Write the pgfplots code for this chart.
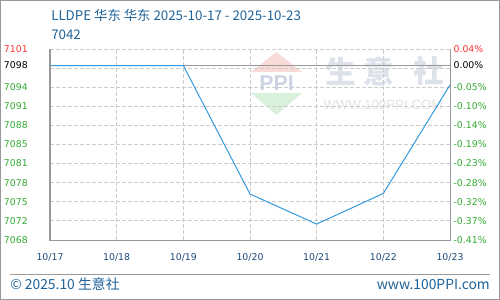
\documentclass[border=0pt]{standalone}
\usepackage{fontspec}
\setmainfont{Noto Sans CJK SC}
\newfontfamily\tickfont{DejaVu Sans}
\newfontfamily\wmfont{Liberation Sans}
\usepackage{pgfplots}
\pgfplotsset{compat=1.18}
\definecolor{tgreen}{HTML}{33AA33}
\definecolor{tred}{HTML}{FF3333}
\definecolor{tblue}{HTML}{1F6399}
\definecolor{xblue}{HTML}{1A4A7A}
\definecolor{lblue}{HTML}{3399DD}
\definecolor{wmgray}{HTML}{DDE1EA}
\definecolor{wmtext}{HTML}{E2E2E2}
\definecolor{wmpink}{HTML}{F8DAD6}
\definecolor{wmgreen}{HTML}{D8F0DC}
\definecolor{wmppi}{HTML}{CCD4E4}
\definecolor{gridc}{HTML}{CCCCCC}
\definecolor{axc}{HTML}{999999}
\pgfplotstableread{
x y
0 7098
1 7098
2 7098
3 7076.2
4 7071.1
5 7076.3
6 7094.7
}\lldpe
\begin{document}
\begin{tikzpicture}[x=0.75pt,y=0.75pt]
\draw[color=axc, line width=0.75pt] (0.5,0.5) rectangle (499.5,299.5);
% title
\node[anchor=west, text=tblue, inner sep=0pt, font=\fontsize{10pt}{11pt}\selectfont] at (51,285) {LLDPE 华东 华东 2025-10-17 - 2025-10-23};
\node[anchor=west, text=tblue, inner sep=0pt, font=\fontsize{10pt}{11pt}\selectfont] at (51,265.5) {7042};
% watermark
\fill[wmpink] (276.5,248) -- (251,228) -- (302,228) -- cycle;
\fill[wmgreen] (251,207) -- (302,207) -- (276.5,185) -- cycle;
\node[text=wmppi, inner sep=0pt, font=\wmfont\bfseries\fontsize{16pt}{16pt}\selectfont] at (276.5,217) {PPI};
\node[text=wmgray, inner sep=0pt, font=\fontsize{23pt}{23pt}\selectfont\bfseries] at (341,229) {生};
\node[text=wmgray, inner sep=0pt, font=\fontsize{23pt}{23pt}\selectfont\bfseries] at (378.5,229) {意};
\node[text=wmgray, inner sep=0pt, font=\fontsize{23pt}{23pt}\selectfont\bfseries] at (429,229) {社};
\node[text=wmtext, inner sep=0pt, font=\wmfont\fontsize{10pt}{10pt}\selectfont] at (383,195) {WWW.100PPI.COM};
% main axis
\begin{axis}[
  at={(37.5pt,45pt)}, anchor=south west,
  scale only axis, width=300pt, height=143.25pt,
  xmin=0, xmax=6, ymin=7068.4, ymax=7100.8,
  axis line style={draw=none},
  major tick length=0pt,
  xtick={0,1,2,3,4,5,6},
  xticklabels={10/17,10/18,10/19,10/20,10/21,10/22,10/23},
  xticklabel style={text=xblue, anchor=center, inner sep=0pt, yshift=-12.75pt, font=\tickfont\fontsize{7pt}{8pt}\selectfont},
  ytick={7068.4,7071.64,7074.88,7078.12,7081.36,7084.6,7087.84,7091.08,7094.32,7097.56,7100.8},
  yticklabels={7068,7072,7075,7078,7081,7085,7088,7091,7094,{},\textcolor{tred}{7101}},
  yticklabel style={text=tgreen, anchor=east, inner sep=0pt, xshift=-16.5pt, font=\tickfont\fontsize{7pt}{8pt}\selectfont},
  extra y ticks={7098},
  extra y tick labels={7098},
  extra y tick style={grid=major, major grid style={solid, color=axc, line width=0.75pt}, yticklabel style={text=black}},
  grid=major,
  major grid style={color=gridc, line width=0.75pt, dash pattern=on 3pt off 1.5pt},
  clip=false,
]
\addplot[color=lblue, line width=0.75pt] table[x=x, y=y] {\lldpe};
\draw[color=axc, line width=0.75pt] (rel axis cs:0,1) -- (rel axis cs:0,0) -- (rel axis cs:1,0) -- (rel axis cs:1,1);
\end{axis}
% right axis (percent)
\begin{axis}[
  at={(37.5pt,45pt)}, anchor=south west,
  scale only axis, width=300pt, height=143.25pt,
  xmin=0, xmax=6, ymin=7068.4, ymax=7100.8,
  axis line style={draw=none},
  hide x axis,
  major tick length=0pt,
  yticklabel pos=right,
  ytick={7068.4,7071.64,7074.88,7078.12,7081.36,7084.6,7087.84,7091.08,7094.32,7097.56,7100.8},
  yticklabels={-0.41\%,-0.37\%,-0.32\%,-0.28\%,-0.23\%,-0.19\%,-0.14\%,-0.10\%,-0.05\%,{},\textcolor{tred}{0.04\%}},
  yticklabel style={text=tgreen, anchor=west, inner sep=0pt, xshift=2.5pt, font=\tickfont\fontsize{7pt}{8pt}\selectfont},
  extra y ticks={7098},
  extra y tick labels={0.00\%},
  extra y tick style={yticklabel style={text=black}},
]
\end{axis}
% footer
\draw[color=axc, line width=0.75pt] (10,25) -- (490,25);
\node[anchor=west, text=tblue, inner sep=0pt, font=\fontsize{10.4pt}{11pt}\selectfont] at (10,15.5) {© 2025.10 生意社};
\node[anchor=east, text=tblue, inner sep=0pt, font=\fontsize{10.4pt}{11pt}\selectfont] at (490,15.5) {www.100PPI.com};
\end{tikzpicture}
\end{document}
